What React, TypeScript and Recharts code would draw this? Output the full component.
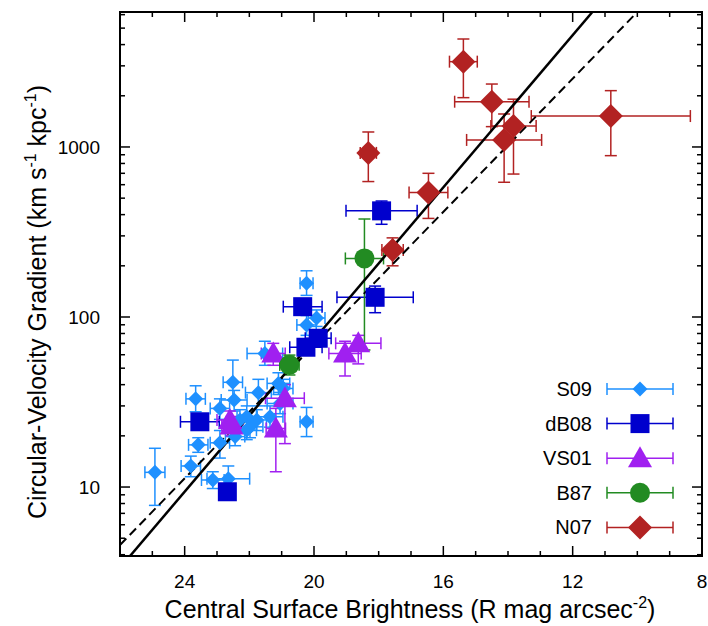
import {
  ComposedChart,
  ErrorBar,
  Legend,
  ReferenceArea,
  Scatter,
  XAxis,
  YAxis,
} from "recharts"

// [mu, g, muErr, gLow, gHigh]
type Pt = [number, number, number, number, number]

const S09: Pt[] = [
  [24.92, 12.2, 0.31, 7.8, 16.9],
  [23.81, 13.3, 0.3, 11.5, 15.2],
  [23.66, 33, 0.3, 27.7, 39.4],
  [23.58, 17.7, 0.3, 16, 19.5],
  [23.13, 11.0, 0.35, 9.8, 12.3],
  [22.65, 11.2, 0.66, 9.6, 13.3],
  [22.91, 18.2, 0.3, 14.8, 21.5],
  [22.51, 41.3, 0.3, 32.5, 55.8],
  [22.47, 32.5, 0.4, 28, 37],
  [22.91, 29, 0.3, 25, 33],
  [21.72, 35.9, 0.4, 30, 43],
  [21.98, 22.6, 0.4, 19.5, 26],
  [22.08, 25.9, 0.3, 22, 30],
  [21.77, 24.8, 0.3, 21.5, 28.5],
  [21.36, 25.9, 0.4, 22.5, 30],
  [21.1, 40.7, 0.35, 35, 47],
  [21.05, 31, 0.4, 27, 36],
  [21.52, 61, 0.55, 52, 72],
  [20.23, 24.2, 0.2, 19.8, 29.4],
  [20.23, 89.8, 0.3, 78, 102],
  [20.23, 158, 0.2, 134, 187],
  [19.92, 98.6, 0.26, 88, 110],
  [22.29, 24.8, 0.3, 21.5, 28.5],
  [22.44, 19.8, 0.3, 17.5, 22.5],
  [22.08, 21.6, 0.3, 19, 24.5],
  [20.95, 38, 0.3, 33, 43],
]

const DB08: Pt[] = [
  [17.91, 421, 1.1, 351, 481],
  [18.11, 130.6, 1.18, 106, 152],
  [20.35, 115, 0.6, 105, 126],
  [19.87, 75, 0.4, 68, 82],
  [20.25, 66.4, 0.5, 60, 73],
  [23.53, 24.2, 0.6, 22.5, 26],
  [22.68, 9.38, 0.2, 8.8, 10],
]

const VS01: Pt[] = [
  [19.04, 61, 0.5, 45, 72],
  [18.63, 70, 0.7, 53, 78],
  [21.26, 61, 0.37, 52, 70],
  [20.9, 33.3, 0.6, 18, 40],
  [21.18, 22.1, 0.3, 12.3, 29],
  [22.6, 24.8, 0.4, 21, 28],
  [22.55, 23, 0.3, 20, 26],
]

const B87: Pt[] = [
  [18.44, 221, 0.59, 64, 377],
  [20.76, 52.3, 0.3, 45.6, 59.7],
]

const N07: Pt[] = [
  [15.38, 3175, 0.43, 1950, 4315],
  [14.5, 1846, 1.15, 1317, 2345],
  [13.83, 1330, 0.7, 693, 1910],
  [14.12, 1100, 1.16, 620, 1563],
  [10.82, 1520, 2.46, 889, 2144],
  [16.46, 539, 0.6, 380, 700],
  [17.57, 248, 0.33, 200, 292],
  [18.32, 923, 0.25, 626, 1225],
]

// fit lines, end points where they meet the frame
const SOLID_FIT = [[25.69, 3.93], [11.39, 6220]]
const DASHED_FIT = [[26, 4.56], [10.0, 6220]]

const X_TICKS = [8, 9, 10, 11, 12, 13, 14, 15, 16, 17, 18, 19, 20, 21, 22, 23, 24, 25]
const X_LABELS = [24, 20, 16, 12, 8]
const Y_TICKS = [
  4, 5, 6, 7, 8, 9, 10, 20, 30, 40, 50, 60, 70, 80, 90,
  100, 200, 300, 400, 500, 600, 700, 800, 900, 1000, 2000, 3000, 4000, 5000, 6000,
]
const Y_LABELS = [10, 100, 1000]
const X_MIN = 8
const X_MAX = 26
const Y_MIN = 3.93
const Y_MAX = 6220

const W = 708
const H = 626
const PLOT_LEFT = 120
const PLOT_RIGHT = 702
const PLOT_TOP = 12
const PLOT_BOTTOM = 556
const FONT = "'Liberation Sans', Arial, sans-serif"

type Kind = "diamond" | "square" | "triangle" | "circle"

const SERIES: { name: string; pts: Pt[]; color: string; kind: Kind; size: number }[] = [
  { name: "S09", pts: S09, color: "#1e90ff", kind: "diamond", size: 7.5 },
  { name: "dB08", pts: DB08, color: "#0000cd", kind: "square", size: 9.5 },
  { name: "VS01", pts: VS01, color: "#a020f0", kind: "triangle", size: 12 },
  { name: "B87", pts: B87, color: "#228b22", kind: "circle", size: 10 },
  { name: "N07", pts: N07, color: "#b22222", kind: "diamond", size: 12 },
]

function toRows(pts: Pt[]) {
  return pts.map(([mu, g, dmu, lo, hi]) => ({ mu, g, muErr: dmu, gErr: [g - lo, hi - g] }))
}

function fitRows(line: number[][]) {
  return line.map(([mu, g]) => ({ mu, g }))
}

function Marker({ kind, cx, cy, color, size }: { kind: Kind; cx: number; cy: number; color: string; size: number }) {
  if (cx == null || cy == null) return null
  if (kind === "diamond")
    return <polygon points={`${cx},${cy - size} ${cx + size},${cy} ${cx},${cy + size} ${cx - size},${cy}`} fill={color} />
  if (kind === "square")
    return <rect x={cx - size} y={cy - size} width={size * 2} height={size * 2} fill={color} />
  if (kind === "triangle")
    return <polygon points={`${cx},${cy - size} ${cx + size},${cy + size * 0.75} ${cx - size},${cy + size * 0.75}`} fill={color} />
  return <circle cx={cx} cy={cy} r={size} fill={color} />
}

function XTick({ x, payload }: any) {
  const major = X_LABELS.includes(payload.value)
  const len = major ? 10 : 5
  return (
    <g>
      <line x1={x} x2={x} y1={PLOT_BOTTOM} y2={PLOT_BOTTOM - len} stroke="#000" strokeWidth={1.5} />
      <line x1={x} x2={x} y1={PLOT_TOP} y2={PLOT_TOP + len} stroke="#000" strokeWidth={1.5} />
      {major && (
        <text x={x} y={588} textAnchor="middle" fontSize={19} fill="#000" fontFamily={FONT}>
          {payload.value}
        </text>
      )}
    </g>
  )
}

function YTick({ y, payload }: any) {
  const major = Y_LABELS.includes(payload.value)
  const len = major ? 10 : 5
  return (
    <g>
      <line x1={PLOT_LEFT} x2={PLOT_LEFT + len} y1={y} y2={y} stroke="#000" strokeWidth={1.5} />
      <line x1={PLOT_RIGHT} x2={PLOT_RIGHT - len} y1={y} y2={y} stroke="#000" strokeWidth={1.5} />
      {major && (
        <text x={100} y={y + 7} textAnchor="end" fontSize={19} fill="#000" fontFamily={FONT}>
          {payload.value}
        </text>
      )}
    </g>
  )
}

function XTitle() {
  return (
    <text x={410} y={618} textAnchor="middle" fontSize={25} fill="#000" fontFamily={FONT}>
      Central Surface Brightness (R mag arcsec
      <tspan dy={-10} fontSize={16}>-2</tspan>
      <tspan dy={10}>)</tspan>
    </text>
  )
}

function YTitle() {
  return (
    <text
      x={46}
      y={302}
      transform="rotate(-90, 46, 302)"
      textAnchor="middle"
      fontSize={25}
      fill="#000"
      fontFamily={FONT}
    >
      Circular-Velocity Gradient (km s
      <tspan dy={-10} fontSize={16}>-1</tspan>
      <tspan dy={10}> kpc</tspan>
      <tspan dy={-10} fontSize={16}>-1</tspan>
      <tspan dy={10}>)</tspan>
    </text>
  )
}

function LegendBox() {
  return (
    <svg width={190} height={190}>
      {SERIES.map((s, i) => {
        const y = 24 + i * 34.6
        return (
          <g key={s.name}>
            <text x={72} y={y + 7} textAnchor="end" fontSize={20} fill="#000" fontFamily={FONT}>
              {s.name}
            </text>
            <line x1={87} x2={153} y1={y} y2={y} stroke={s.color} strokeWidth={1.5} />
            <line x1={87} x2={87} y1={y - 6} y2={y + 6} stroke={s.color} strokeWidth={1.5} />
            <line x1={153} x2={153} y1={y - 6} y2={y + 6} stroke={s.color} strokeWidth={1.5} />
            <Marker kind={s.kind} cx={120} cy={y} color={s.color} size={s.size} />
          </g>
        )
      })}
    </svg>
  )
}

export default function App() {
  return (
    <div style={{ position: "absolute", left: 0, top: 0, width: W, height: H, background: "#fff", fontFamily: FONT }}>
      <ComposedChart width={W} height={H} margin={{ top: PLOT_TOP, right: W - PLOT_RIGHT, bottom: 10, left: 0 }}>
        <XAxis
          dataKey="mu"
          type="number"
          domain={[X_MIN, X_MAX]}
          reversed
          allowDataOverflow
          ticks={X_TICKS}
          interval={0}
          tickLine={false}
          axisLine={false}
          tick={<XTick />}
          height={H - 10 - PLOT_BOTTOM}
          label={<XTitle />}
        />
        <YAxis
          dataKey="g"
          type="number"
          scale="log"
          domain={[Y_MIN, Y_MAX]}
          allowDataOverflow
          ticks={Y_TICKS}
          interval={0}
          tickLine={false}
          axisLine={false}
          tick={<YTick />}
          width={PLOT_LEFT}
          label={<YTitle />}
        />
        <ReferenceArea x1={X_MIN} x2={X_MAX} y1={Y_MIN} y2={Y_MAX} fill="none" stroke="#000" strokeWidth={2} ifOverflow="visible" />
        <Scatter
          data={fitRows(DASHED_FIT)}
          line={{ stroke: "#000", strokeWidth: 2, strokeDasharray: "9 5" }}
          shape={() => <g />}
          isAnimationActive={false}
          legendType="none"
        />
        <Scatter
          data={fitRows(SOLID_FIT)}
          line={{ stroke: "#000", strokeWidth: 2.5 }}
          shape={() => <g />}
          isAnimationActive={false}
          legendType="none"
        />
        {SERIES.map(s => (
          <Scatter
            key={s.name}
            name={s.name}
            data={toRows(s.pts)}
            fill={s.color}
            isAnimationActive={false}
            shape={(p: any) => <Marker kind={s.kind} cx={p.cx} cy={p.cy} color={s.color} size={s.size} />}
          >
            <ErrorBar dataKey="muErr" direction="x" width={6} stroke={s.color} strokeWidth={1.5} isAnimationActive={false} />
            <ErrorBar dataKey="gErr" direction="y" width={6} stroke={s.color} strokeWidth={1.5} isAnimationActive={false} />
          </Scatter>
        ))}
        <Legend
          layout="horizontal"
          verticalAlign="middle"
          align="center"
          content={<LegendBox />}
          wrapperStyle={{ position: "absolute", left: 520, top: 365, width: 190, height: 190 }}
        />
      </ComposedChart>
    </div>
  )
}
